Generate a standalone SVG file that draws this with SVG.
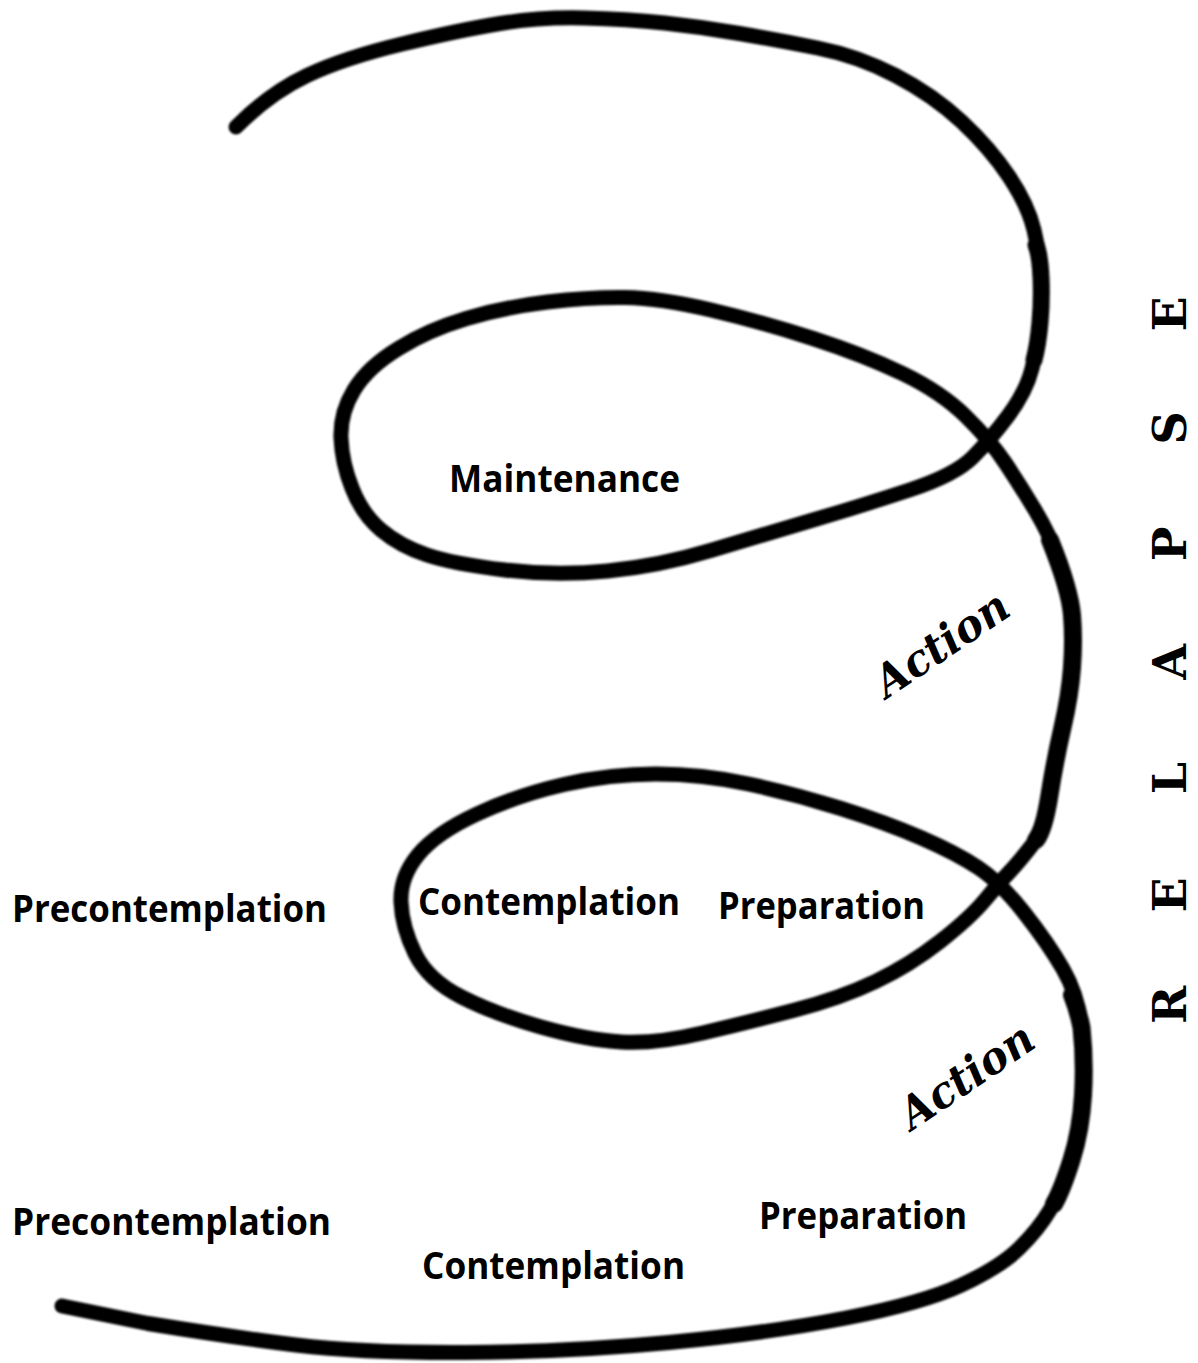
<svg xmlns="http://www.w3.org/2000/svg" width="1198" height="1363" viewBox="0 0 1198 1363">
<style>
.lbl{font-family:"Open Sans","Noto Sans","Liberation Sans",sans-serif;font-weight:bold;font-size:38px;fill:#000}
.act{font-family:"DejaVu Serif","Liberation Serif",serif;font-weight:bold;font-style:italic;font-size:44px;fill:#000}
.rel{font-family:"DejaVu Serif","Liberation Serif",serif;font-weight:bold;font-size:46px;fill:#000}
.sp{fill:none;stroke:#000;stroke-linecap:round;stroke-linejoin:round}
</style>
<defs><filter id="soft" x="-5%" y="-5%" width="110%" height="110%"><feGaussianBlur stdDeviation="1"/></filter></defs>
<rect width="1198" height="1363" fill="#fff"/>
<g id="connectors" filter="url(#soft)">
<path class="sp" stroke-width="15" d="M236,127 Q270,93 307,75.5 Q344,58 402,44 Q460,30 500,23.5 Q540,17 583.5,18 Q627,19 664.5,23 Q702,27 739.5,33.5 Q777,40 817.5,48 Q858,56 895.5,75.5 Q933,95 961.5,121.5 Q990,148 1009,176.5 Q1028,205 1034,230 Q1040,255 1041,277.5 Q1042,300 1040,322.5 Q1038,345 1032,368.5 Q1026,392 1008,416 Q990,440 972.5,457.5 Q955,475 909.5,490 Q864,505 813,520 Q762,535 710.5,550.5 Q659,566 607.5,571 Q556,576 505,570 Q454,564 427,555 Q400,546 381,530 Q362,514 352,488 Q342,463 341,438 Q340,413 354,390 Q368,367 398.5,348.5 Q428,330 466.5,318.5 Q505,307 547.5,302 Q590,297 625,297.5 Q660,298 711,310 Q762,322 813,338.5 Q864,355 902.5,373.5 Q941,392 965.5,416 Q990,440 1005,462.5 Q1020,485 1035,510 Q1050,535 1060,562.5 Q1070,590 1072,615 Q1074,640 1072,667.5 Q1070,695 1062.5,727.5 Q1055,760 1049.5,795 Q1044,830 1031,846.5 Q1018,863 1009,872.5 Q1000,882 985,900 Q970,918 940,941.5 Q910,965 875.5,981.5 Q841,998 795,1010 Q749,1022 702.5,1033 Q656,1044 621.5,1042 Q587,1040 541,1027 Q495,1014 461.5,997 Q428,980 415,953.5 Q402,927 401,902 Q400,877 418,855 Q436,833 477,814 Q518,795 564,784.5 Q610,774 656,774 Q702,774 748.5,784 Q795,794 841,808.5 Q887,823 921.5,838 Q956,853 978,867.5 Q1000,882 1024,912.5 Q1048,943 1063,969 Q1078,995 1081.5,1027.5 Q1085,1060 1083,1095 Q1081,1130 1071.5,1160 Q1062,1190 1050,1210 Q1038,1230 1019,1248.5 Q1000,1267 961.5,1285 Q923,1303 846,1318 Q769,1333 669,1342.5 Q569,1352 465,1352.5 Q361,1353 296,1345 Q231,1337 148,1323.5 L62,1306"/>
<path class="sp" stroke-width="18" d="M1050,540 Q1070,590 1072,615 Q1074,640 1072,667.5 Q1070,695 1062.5,727.5 Q1055,760 1049.5,795 Q1044,830 1036,840"/>
<path class="sp" stroke-width="18" d="M1072,995 Q1078,1010 1081.5,1027.5 Q1085,1060 1083,1095 Q1081,1130 1071.5,1160 Q1062,1190 1054,1204"/>
<path class="sp" stroke-width="17" d="M1036,245 Q1040,255 1041,277.5 Q1042,300 1040,322.5 Q1038,345 1034,360"/>
</g>
<g id="maintenance"><text class="lbl" x="449" y="492" textLength="231" lengthAdjust="spacingAndGlyphs">Maintenance</text></g>
<g id="precontemplation-1"><text class="lbl" x="12" y="922" textLength="315" lengthAdjust="spacingAndGlyphs">Precontemplation</text></g>
<g id="contemplation-1"><text class="lbl" x="418" y="915" textLength="262" lengthAdjust="spacingAndGlyphs">Contemplation</text></g>
<g id="preparation-1"><text class="lbl" x="718" y="919" textLength="207" lengthAdjust="spacingAndGlyphs">Preparation</text></g>
<g id="action-1"><text class="act" transform="translate(887,699) rotate(-34)" textLength="152" lengthAdjust="spacingAndGlyphs">Action</text></g>
<g id="precontemplation-2"><text class="lbl" x="12" y="1235" textLength="319" lengthAdjust="spacingAndGlyphs">Precontemplation</text></g>
<g id="contemplation-2"><text class="lbl" x="422" y="1279" textLength="263" lengthAdjust="spacingAndGlyphs">Contemplation</text></g>
<g id="preparation-2"><text class="lbl" x="759" y="1229" textLength="208" lengthAdjust="spacingAndGlyphs">Preparation</text></g>
<g id="action-2"><text class="act" transform="translate(912,1131) rotate(-34)" textLength="152" lengthAdjust="spacingAndGlyphs">Action</text></g>
<g id="relapse">
<text class="rel" text-anchor="middle" transform="translate(1186,1005) rotate(-90)">R</text>
<text class="rel" text-anchor="middle" transform="translate(1186,895) rotate(-90)">E</text>
<text class="rel" text-anchor="middle" transform="translate(1186,778) rotate(-90)">L</text>
<text class="rel" text-anchor="middle" transform="translate(1186,662) rotate(-90)">A</text>
<text class="rel" text-anchor="middle" transform="translate(1186,544) rotate(-90)">P</text>
<text class="rel" text-anchor="middle" transform="translate(1186,428) rotate(-90)">S</text>
<text class="rel" text-anchor="middle" transform="translate(1186,314) rotate(-90)">E</text>
</g>
</svg>
